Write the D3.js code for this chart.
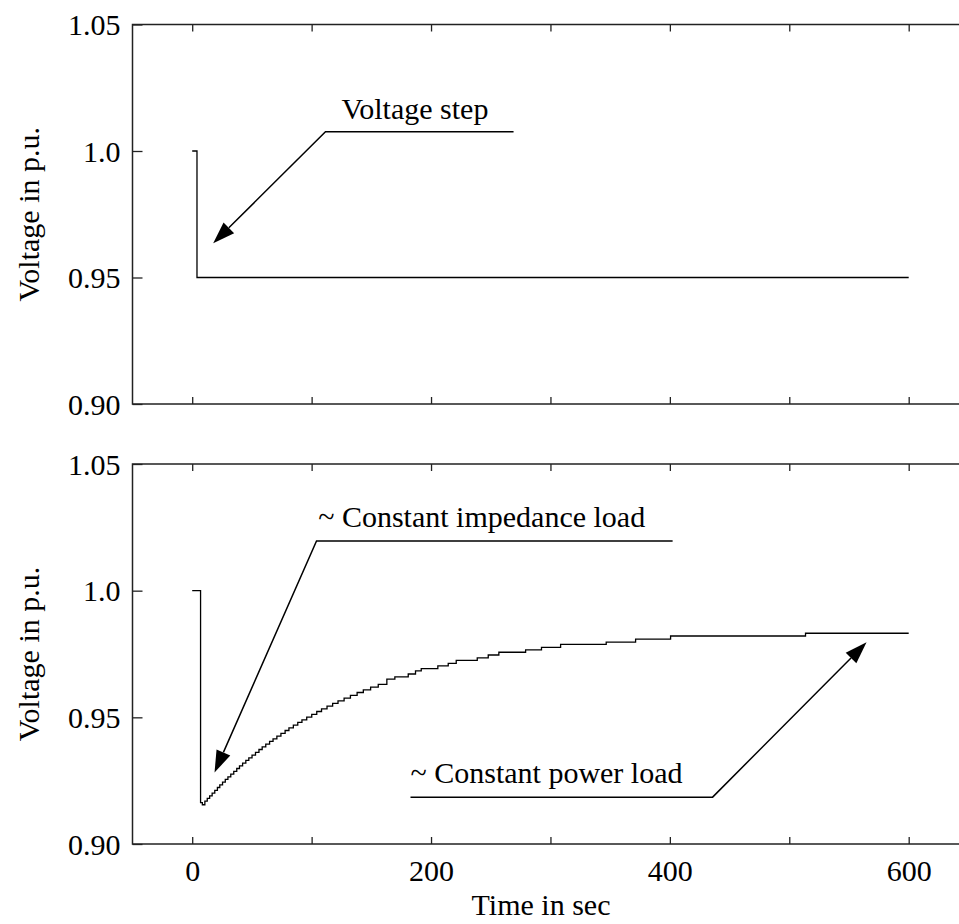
<!DOCTYPE html>
<html><head><meta charset="utf-8">
<script src="https://cdn.jsdelivr.net/npm/d3@7"></script>
<style>
body{margin:0;background:#fff}
svg{display:block}
text{font-family:"Liberation Serif","Times New Roman",serif;fill:#000}
</style>
</head><body>
<svg id="c" width="959" height="924"></svg>
<script>
// ---- data ----
const xTicks = [0, 100, 200, 300, 400, 500, 600];
const xTickLabels = ["0", "", "200", "", "400", "", "600"];
const yTicks = [0.90, 0.95, 1.0, 1.05];
const yTickLabels = ["0.90", "0.95", "1.0", "1.05"];
const xLabel = "Time in sec";
const yLabel = "Voltage in p.u.";

// top panel: voltage step
const topTime = [0, 4, 600];
const topVoltage = [1.0, 0.95, 0.95];

// bottom panel: load voltage response
const bottomTime = [0, 7, 8.5, 10.6, 12.6, 14.6, 16.7, 18.9, 21.1, 23.1, 25.4, 27.7, 29.9, 32.3, 34.8, 37.3, 39.6, 42.2, 44.9, 47.4, 50.1, 53.0, 55.9, 58.6, 61.6, 64.8, 67.7, 70.9, 74.3, 77.8, 81.0, 84.7, 88.4, 91.9, 95.9, 100.1, 104.3, 108.3, 112.9, 117.6, 122.1, 127.2, 132.5, 138.1, 143.3, 149.4, 155.8, 163.0, 169.7, 180.9, 187.0, 191.8, 205.7, 214.4, 221.1, 238.7, 247.9, 256.8, 279.2, 292.5, 308.5, 346.7, 371.3, 400.6, 513.6, 600];
const bottomVoltage = [1.0, 0.9163, 0.9155, 0.9169, 0.9180, 0.9190, 0.9201, 0.9212, 0.9223, 0.9233, 0.9244, 0.9255, 0.9265, 0.9276, 0.9287, 0.9298, 0.9308, 0.9319, 0.9330, 0.9340, 0.9351, 0.9362, 0.9373, 0.9383, 0.9394, 0.9405, 0.9415, 0.9426, 0.9437, 0.9448, 0.9458, 0.9469, 0.9480, 0.9490, 0.9501, 0.9512, 0.9523, 0.9533, 0.9544, 0.9555, 0.9565, 0.9576, 0.9587, 0.9598, 0.9608, 0.9619, 0.9630, 0.9651, 0.9660, 0.9671, 0.9683, 0.9692, 0.9703, 0.9713, 0.9725, 0.9735, 0.9746, 0.9757, 0.9766, 0.9776, 0.9788, 0.9797, 0.9809, 0.9821, 0.9832, 0.9832];

// annotations (data coordinates): text anchor, leader line (shelf end, elbow), arrow tip
const annTexts = ["Voltage step", "~ Constant impedance load", "~ Constant power load"];
const annPanel = [0, 1, 1];
const annTextPos = [[125, 1.0128], [105.5, 1.0250], [182.8, 0.9240]];
const annShelfEnd = [[269.1, 1.0076], [402.3, 1.0196], [182.8, 0.9185]];
const annElbow = [[111.6, 1.0076], [104.1, 1.0196], [435.8, 0.9185]];
const annTip = [[17.6, 0.9635], [18.7, 0.9282], [564.7, 0.9796]];

// ---- layout ----
const svg = d3.select("#c");
const panels = [{top: 24.5, bottom: 404}, {top: 464, bottom: 844}];
const x = d3.scaleLinear().domain([-50, 650]).range([132.5, 968.4]);
const ys = panels.map(p => d3.scaleLinear().domain([0.90, 1.05]).range([p.bottom, p.top]));

const series = [
  topTime.map((t, i) => [t, topVoltage[i]]),
  bottomTime.map((t, i) => [t, bottomVoltage[i]])
];

panels.forEach((p, k) => {
  const y = ys[k];
  const g = svg.append("g");
  // frame
  g.append("rect")
    .attr("x", x(-50)).attr("y", p.top)
    .attr("width", x(650) - x(-50)).attr("height", p.bottom - p.top)
    .attr("fill", "none").attr("stroke", "#222").attr("stroke-width", 1.5);

  // bottom axis ticks (inward)
  const bx = d3.axisBottom(x).tickValues(xTicks).tickSize(-7)
    .tickFormat((d, i) => k === 1 ? xTickLabels[i] : "");
  const gb = g.append("g").attr("transform", `translate(0,${p.bottom})`).call(bx);
  // top border ticks (inward)
  const tx = d3.axisTop(x).tickValues(xTicks).tickSize(-7).tickFormat("");
  const gt = g.append("g").attr("transform", `translate(0,${p.top})`).call(tx);
  // left axis ticks
  const ly = d3.axisLeft(y).tickValues(yTicks).tickSize(-10)
    .tickFormat((d, i) => yTickLabels[i]);
  const gl = g.append("g").attr("transform", `translate(${x(-50)},0)`).call(ly);

  [gb, gt, gl].forEach(a => {
    a.attr("font-family", null);
    a.select(".domain").remove();
    a.selectAll(".tick line").attr("stroke", "#222").attr("stroke-width", 1.3);
    a.selectAll(".tick text").style("font-family", '"Liberation Serif","Times New Roman",serif')
      .style("font-size", "30px").attr("fill", "#000");
  });
  gl.selectAll(".tick text").attr("x", -12).attr("dy", "0.34em");
  gb.selectAll(".tick text").attr("y", 16).attr("dy", "0.71em");

  // data line
  g.append("path")
    .datum(series[k])
    .attr("fill", "none").attr("stroke", "#000").attr("stroke-width", 1.3)
    .attr("d", d3.line().x(d => x(d[0])).y(d => y(d[1])).curve(d3.curveStepAfter));

  // y label
  g.append("text")
    .attr("transform", `translate(28,${(p.top + p.bottom) / 2}) rotate(-90)`)
    .attr("text-anchor", "middle").attr("dy", "0.35em")
    .style("font-size", "30px").text(yLabel);
});

// x label
svg.append("text")
  .attr("x", 541).attr("y", 904).attr("text-anchor", "middle").attr("dy", "0.35em")
  .style("font-size", "30px").text(xLabel);

// annotations
annTexts.forEach((txt, i) => {
  const y = ys[annPanel[i]];
  const P = d => [x(d[0]), y(d[1])];
  const s = P(annShelfEnd[i]), e = P(annElbow[i]), t = P(annTip[i]);
  svg.append("text").attr("x", P(annTextPos[i])[0]).attr("y", P(annTextPos[i])[1])
    .style("font-size", "30px").text(txt);
  // arrowhead geometry
  const dx = t[0] - e[0], dy = t[1] - e[1], L = Math.hypot(dx, dy);
  const ux = dx / L, uy = dy / L, hl = 22, hw = 7.5;
  const bxp = t[0] - ux * hl, byp = t[1] - uy * hl;
  svg.append("path")
    .attr("d", `M${s[0]},${s[1]}L${e[0]},${e[1]}L${bxp},${byp}`)
    .attr("fill", "none").attr("stroke", "#000").attr("stroke-width", 1.5);
  svg.append("path")
    .attr("d", `M${t[0]},${t[1]}L${bxp - uy * hw},${byp + ux * hw}L${bxp + uy * hw},${byp - ux * hw}Z`)
    .attr("fill", "#000");
});
</script>
</body></html>
